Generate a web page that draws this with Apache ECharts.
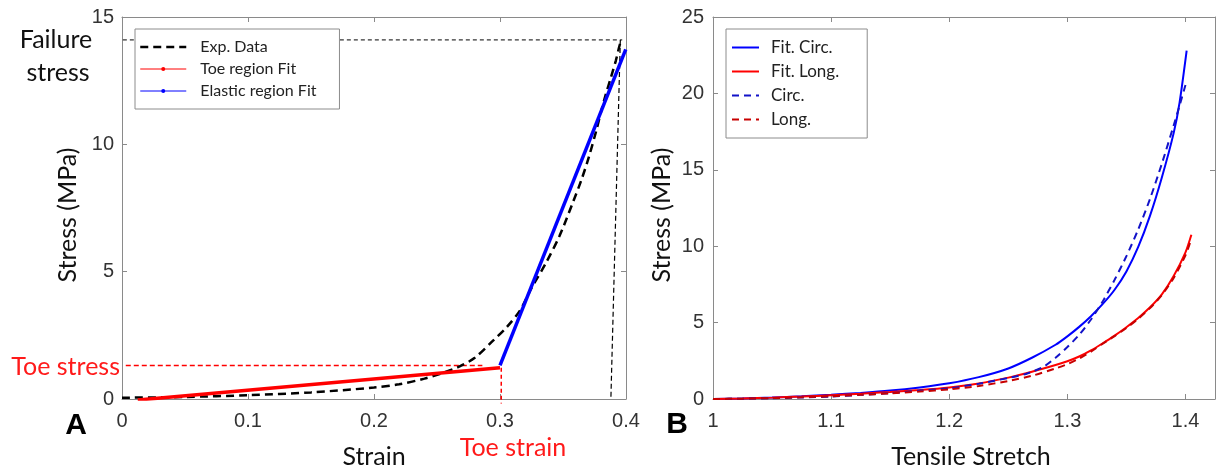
<!DOCTYPE html>
<html>
<head>
<meta charset="utf-8">
<script src="https://cdn.jsdelivr.net/npm/echarts@6/dist/echarts.min.js"></script>
<style>
html,body{margin:0;padding:0;background:#fff;}
#chart{width:1218px;height:475px;}
</style>
</head>
<body>
<div id="chart"></div>
<script>
// ---------- Panel A: stress-strain ----------
const strainExp = [0, 0.05, 0.1, 0.15, 0.2, 0.22, 0.24, 0.255, 0.268, 0.28, 0.2947, 0.3053, 0.3159, 0.3255, 0.336, 0.3472, 0.3577, 0.3646, 0.3705, 0.3762, 0.3803, 0.3839, 0.3879, 0.392, 0.395, 0.3966];
const stressExp = [0.05, 0.08, 0.15, 0.26, 0.45, 0.58, 0.8, 1.03, 1.28, 1.62, 2.3, 2.82, 3.48, 4.4, 5.3, 6.4, 7.7, 8.6, 9.5, 10.5, 11.3, 11.95, 12.6, 13.3, 13.9, 14.1];
const toeFitStrain = [0.0125, 0.3];
const toeFitStress = [-0.04, 1.23];
const elasticFitStrain = [0.3, 0.3998];
const elasticFitStress = [1.32, 13.73];

const failureStress = 14.1;
const failureLineStrain = [-0.016, 0.397];
const failureDropStrain = [0.3955, 0.388];
const failureDropStress = [14.1, 0];
const toeStress = 1.32;
const toeStressLineStrain = [0.003, 0.286];
const toeStrain = 0.301;
const toeStrainLineStress = [1.23, -0.18];

const strainTicks = { min: 0, max: 0.4, interval: 0.1 };
const stressTicksA = { min: 0, max: 15, interval: 5 };

// ---------- Panel B: stretch ----------
const fitCircStretch = [1.0, 1.025, 1.05, 1.075, 1.1, 1.125, 1.15, 1.175, 1.2, 1.225, 1.25, 1.27, 1.29, 1.3, 1.31, 1.32, 1.33, 1.34, 1.35, 1.36, 1.37, 1.38, 1.39, 1.395, 1.401];
const fitCircStress  = [0, 0.04, 0.10, 0.18, 0.28, 0.40, 0.55, 0.76, 1.03, 1.43, 2.0, 2.7, 3.55, 4.1, 4.72, 5.42, 6.22, 7.15, 8.35, 9.95, 12.0, 14.5, 17.4, 19.4, 22.8];
const circStretch = [1.0, 1.025, 1.05, 1.075, 1.1, 1.125, 1.15, 1.175, 1.2, 1.225, 1.25, 1.265, 1.28, 1.29, 1.3, 1.31, 1.32, 1.33, 1.34, 1.35, 1.36, 1.37, 1.38, 1.39, 1.395, 1.4];
const circStress  = [0, 0.02, 0.05, 0.10, 0.16, 0.27, 0.38, 0.55, 0.7, 1.0, 1.38, 1.64, 2.12, 2.7, 3.4, 4.2, 5.2, 6.4, 7.8, 9.35, 11.1, 13.1, 15.4, 17.9, 19.2, 20.55];
const fitLongStretch = [1.0, 1.025, 1.05, 1.075, 1.1, 1.125, 1.15, 1.175, 1.2, 1.225, 1.25, 1.27, 1.29, 1.3, 1.31, 1.32, 1.33, 1.34, 1.35, 1.36, 1.37, 1.38, 1.39, 1.4, 1.405];
const fitLongStress  = [0, 0.04, 0.09, 0.16, 0.25, 0.35, 0.46, 0.59, 0.76, 1.02, 1.4, 1.78, 2.22, 2.47, 2.78, 3.18, 3.65, 4.15, 4.7, 5.3, 6.0, 6.85, 8.05, 9.6, 10.75];
const longStretch = [1.0, 1.025, 1.05, 1.075, 1.1, 1.125, 1.15, 1.175, 1.2, 1.225, 1.25, 1.27, 1.29, 1.3, 1.31, 1.32, 1.33, 1.34, 1.35, 1.36, 1.37, 1.38, 1.39, 1.4, 1.404];
const longStress  = [0, 0.02, 0.06, 0.11, 0.18, 0.27, 0.37, 0.49, 0.63, 0.85, 1.18, 1.52, 2.0, 2.28, 2.65, 3.1, 3.62, 4.12, 4.65, 5.25, 5.95, 6.8, 7.92, 9.4, 10.25];

const stretchTicks = { min: 1, max: 1.425, interval: 0.1 };
const stressTicksB = { min: 0, max: 25, interval: 5 };

// ---------- build ----------
const pairs = (xs, ys) => xs.map((x, i) => [x, ys[i]]);
const AX = '#8a8a8a';
const titleFont = 'Lato';
const tickLabel = { color: '#333', fontFamily: 'Liberation Sans', fontSize: 20 };
function axis(gridIndex, ticks, position, opts) {
  const main = position === 'bottom' || position === 'left';
  return Object.assign({
    gridIndex, type: 'value', position,
    min: ticks.min, max: ticks.max, interval: ticks.interval,
    axisLine: { show: true, onZero: false, lineStyle: { color: AX, width: 1 } },
    axisTick: { show: true, inside: true, length: 5, lineStyle: { color: AX } },
    splitLine: { show: false },
    axisLabel: main ? Object.assign({ show: true }, tickLabel) : { show: false }
  }, opts || {});
}

const chart = echarts.init(document.getElementById('chart'), null, { renderer: 'canvas' });
const option = {
  animation: false,
  backgroundColor: '#fff',
  grid: [
    { left: 122, top: 17, width: 504, height: 382 },
    { left: 713, top: 17, width: 502, height: 382 }
  ],
  xAxis: [
    axis(0, strainTicks, 'bottom', {
      axisLabel: Object.assign({ margin: 12 }, tickLabel),
      name: 'Strain', nameLocation: 'middle', nameGap: 58,
      nameTextStyle: { fontFamily: titleFont, fontSize: 25, color: '#111', verticalAlign: 'middle' }
    }),
    axis(0, strainTicks, 'top'),
    axis(1, stretchTicks, 'bottom', {
      axisLabel: Object.assign({ margin: 12, showMaxLabel: false }, tickLabel),
      name: 'Tensile Stretch', nameLocation: 'middle', nameGap: 58,
      nameTextStyle: { fontFamily: titleFont, fontSize: 25, color: '#111', verticalAlign: 'middle', padding: [0, 0, 0, 14] }
    }),
    axis(1, stretchTicks, 'top')
  ],
  yAxis: [
    axis(0, stressTicksA, 'left', {
      axisLabel: Object.assign({ margin: 8 }, tickLabel),
      name: 'Stress (MPa)', nameLocation: 'middle', nameGap: 54,
      nameTextStyle: { fontFamily: titleFont, fontSize: 25, color: '#111', verticalAlign: 'middle', padding: [0, 14, 0, 0] }
    }),
    axis(0, stressTicksA, 'right'),
    axis(1, stressTicksB, 'left', {
      axisLabel: Object.assign({ margin: 9 }, tickLabel),
      name: 'Stress (MPa)', nameLocation: 'middle', nameGap: 51,
      nameTextStyle: { fontFamily: titleFont, fontSize: 25, color: '#111', verticalAlign: 'middle', padding: [0, 14, 0, 0] }
    }),
    axis(1, stressTicksB, 'right')
  ],
  legend: [
    {
      data: [
        { name: 'Exp. Data', itemStyle: { opacity: 0 }, lineStyle: { width: 2.5 } },
        { name: 'Toe region Fit', lineStyle: { width: 1 } },
        { name: 'Elastic region Fit', lineStyle: { width: 1 } }
      ],
      orient: 'vertical', left: 135, top: 29,
      itemWidth: 46, itemHeight: 5, itemGap: 6,
      padding: [10, 23, 10, 4],
      borderColor: '#8c8c8c', borderWidth: 1, backgroundColor: '#fff',
      selectedMode: false,
      textStyle: { fontFamily: titleFont, fontSize: 16, color: '#222', padding: [0, 0, 0, 9] }
    },
    {
      data: [
        { name: 'Fit. Circ.', itemStyle: { opacity: 0 } },
        { name: 'Fit. Long.', itemStyle: { opacity: 0 } },
        { name: 'Circ.', itemStyle: { opacity: 0 } },
        { name: 'Long.', itemStyle: { opacity: 0 } }
      ],
      orient: 'vertical', left: 726, top: 29,
      itemWidth: 27, itemHeight: 5, itemGap: 7,
      padding: [10, 28, 10, 5],
      borderColor: '#8c8c8c', borderWidth: 1, backgroundColor: '#fff',
      selectedMode: false,
      textStyle: { fontFamily: titleFont, fontSize: 17, color: '#222', padding: [0, 0, 0, 7] }
    }
  ],
  series: [
    // annotation guide lines (panel A)
    { type: 'line', xAxisIndex: 0, yAxisIndex: 0, silent: true, clip: false, symbol: 'none', z: 1,
      data: pairs(failureLineStrain, [failureStress, failureStress]),
      lineStyle: { color: '#000', width: 1, type: [4, 3] } },
    { type: 'line', xAxisIndex: 0, yAxisIndex: 0, silent: true, clip: false, symbol: 'none', z: 1,
      data: pairs(failureDropStrain, failureDropStress),
      lineStyle: { color: '#000', width: 1.2, type: [5, 3] } },
    { type: 'line', xAxisIndex: 0, yAxisIndex: 0, silent: true, clip: false, symbol: 'none', z: 1,
      data: pairs(toeStressLineStrain, [toeStress, toeStress]),
      lineStyle: { color: '#ff0000', width: 1.5, type: [5, 3] } },
    { type: 'line', xAxisIndex: 0, yAxisIndex: 0, silent: true, clip: false, symbol: 'none', z: 1,
      data: pairs([toeStrain, toeStrain], toeStrainLineStress),
      lineStyle: { color: '#ff0000', width: 1.5, type: [4, 3] } },
    // panel A data
    { name: 'Exp. Data', type: 'line', xAxisIndex: 0, yAxisIndex: 0, symbol: 'none', smooth: 0.3,
      data: pairs(strainExp, stressExp),
      lineStyle: { color: '#000', width: 2.5, type: [8, 5] }, itemStyle: { color: '#000' } },
    { name: 'Toe region Fit', type: 'line', xAxisIndex: 0, yAxisIndex: 0, symbol: 'circle', symbolSize: 4, showSymbol: false,
      data: pairs(toeFitStrain, toeFitStress),
      lineStyle: { color: '#ff0000', width: 3.5 }, itemStyle: { color: '#ff0000' } },
    { name: 'Elastic region Fit', type: 'line', xAxisIndex: 0, yAxisIndex: 0, symbol: 'circle', symbolSize: 4, showSymbol: false,
      data: pairs(elasticFitStrain, elasticFitStress),
      lineStyle: { color: '#0000ff', width: 3.5 }, itemStyle: { color: '#0000ff' } },
    // panel B
    { name: 'Fit. Circ.', type: 'line', xAxisIndex: 2, yAxisIndex: 2, symbol: 'none', smooth: 0.25,
      data: pairs(fitCircStretch, fitCircStress),
      lineStyle: { color: '#0000ff', width: 2 }, itemStyle: { color: '#0000ff' } },
    { name: 'Fit. Long.', type: 'line', xAxisIndex: 2, yAxisIndex: 2, symbol: 'none', smooth: 0.25,
      data: pairs(fitLongStretch, fitLongStress),
      lineStyle: { color: '#ff0000', width: 2 }, itemStyle: { color: '#ff0000' } },
    { name: 'Circ.', type: 'line', xAxisIndex: 2, yAxisIndex: 2, symbol: 'none', smooth: 0.25,
      data: pairs(circStretch, circStress),
      lineStyle: { color: '#1212c8', width: 2, type: [7, 5] }, itemStyle: { color: '#1212c8' } },
    { name: 'Long.', type: 'line', xAxisIndex: 2, yAxisIndex: 2, symbol: 'none', smooth: 0.25,
      data: pairs(longStretch, longStress),
      lineStyle: { color: '#c80000', width: 2, type: [7, 5] }, itemStyle: { color: '#c80000' } }
  ],
  graphic: [
    { type: 'text', x: 56, y: 40, style: { text: 'Failure', font: '25px Lato', fill: '#111', align: 'center', verticalAlign: 'middle' } },
    { type: 'text', x: 58, y: 73, style: { text: 'stress', font: '25px Lato', fill: '#111', align: 'center', verticalAlign: 'middle' } },
    { type: 'text', x: 120, y: 367, style: { text: 'Toe stress', font: '25px Lato', fill: '#ff1a1a', align: 'right', verticalAlign: 'middle' } },
    { type: 'text', x: 513, y: 448, style: { text: 'Toe strain', font: '25px Lato', fill: '#ff1a1a', align: 'center', verticalAlign: 'middle' } },
    { type: 'text', x: 76, y: 426, style: { text: 'A', font: 'bold 30px "Liberation Sans"', fill: '#000', align: 'center', verticalAlign: 'middle' } },
    { type: 'text', x: 677, y: 425, style: { text: 'B', font: 'bold 30px "Liberation Sans"', fill: '#000', align: 'center', verticalAlign: 'middle' } }
  ]
};
chart.setOption(option);
</script>
</body>
</html>
